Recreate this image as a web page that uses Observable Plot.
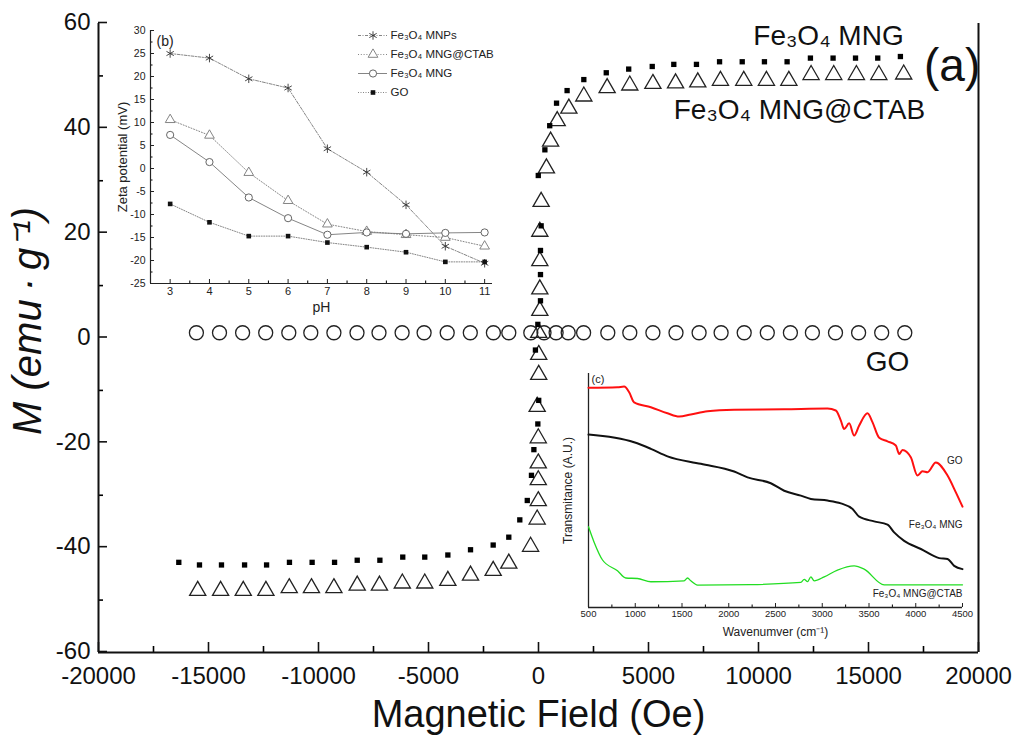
<!DOCTYPE html>
<html><head><meta charset="utf-8">
<script src="https://cdn.jsdelivr.net/npm/d3@7"></script>
<script src="https://cdn.jsdelivr.net/npm/@observablehq/plot@0.6"></script>
<style>
body{margin:0;background:#fff;}
#wrap{position:relative;width:1016px;height:740px;overflow:hidden;font-family:"Liberation Sans",Arial,sans-serif;}
#wrap > div{position:absolute;}
</style></head>
<body><div id="wrap"><div id="main" style="left:0;top:0"></div><div id="inb" style="left:100px;top:15px"></div><div id="leg" style="left:350px;top:25px"></div><div id="inc" style="left:540px;top:360px"></div></div>
<script>
// ---------- (a) main hysteresis data ----------
const goH = [-15550,-14500,-13450,-12400,-11350,-10350,-9300,-8250,-7250,-6200,-5200,-4150,-3100,-2050,-1350,-350,250,800,1350,2050,3150,4150,5200,6250,7300,8300,9350,10400,11450,12450,13500,14550,15600,16650];
const goM = [1,1,1,1,1,1,1,1,1,1,1,1,1,1,1,1,1,1,1,1,1,1,1,1,1,1,1,1,1,1,1,1,1,1];
const mngH = [-16350,-15410,-14410,-13360,-12360,-11320,-10290,-9270,-8240,-7210,-6170,-5170,-4120,-3090,-2060,-1350,-850,-510,-320,-210,-30,10,-140,-30,90,90,90,120,-10,290,510,820,1300,2060,3080,4100,5170,6150,7180,8230,9260,10270,11300,12360,13390,14410,15420,16450];
const mngM = [-42.8,-43.3,-43.3,-43.3,-43.3,-42.8,-42.8,-42.8,-42.4,-42.4,-41.8,-41.8,-41.4,-40.4,-39.5,-38.0,-34.7,-31.0,-26.2,-21.3,-16.4,-11.9,-2.3,2.6,7.1,12.1,16.7,21.4,31.0,35.9,40.5,44.8,47.2,49.3,50.6,51.3,51.8,52.2,52.2,52.7,52.7,52.7,52.7,53.4,53.4,53.4,53.4,53.7];
const ctabH = [-15490,-14450,-13420,-12390,-11330,-10320,-9300,-8240,-7230,-6190,-5170,-4120,-3090,-2060,-1350,-360,-60,-10,-10,-10,-10,-60,10,10,10,60,60,60,60,120,360,550,850,1380,2060,3120,4150,5200,6230,7240,8270,9330,10360,11380,12390,13420,14450,15470,16600];
const ctabM = [-48.2,-48.2,-48.2,-48.2,-47.7,-47.7,-47.7,-47.2,-47.2,-46.8,-46.8,-46.3,-45.3,-44.4,-43.0,-39.8,-34.6,-31.1,-27.1,-23.9,-19.1,-13.1,-7.0,-3.2,1.0,5.2,9.3,14.7,20.3,26.0,32.4,37.5,41.4,43.8,46.1,47.7,48.2,48.5,48.6,48.8,49.1,49.1,49.1,49.1,50.2,50.2,50.2,50.2,50.3];
const mainXMajor = [-20000,-15000,-10000,-5000,0,5000,10000,15000,20000];
const mainXMinor = [-17500,-12500,-7500,-2500,2500,7500,12500,17500];
const mainYMajor = [-60,-40,-20,0,20,40,60];
const mainYMinor = [-50,-30,-10,10,30,50];

// ---------- (b) zeta potential data ----------
const pH = [3,4,5,6,7,8,9,10,11];
const zetaNames = ["Fe₃O₄ MNPs","Fe₃O₄ MNG@CTAB","Fe₃O₄ MNG","GO"];
const zMNPs = [25,24,19.5,17.5,4.3,-0.8,-7.9,-16.9,-20.6];
const zCTAB = [10.6,7.2,-0.9,-7,-12.1,-13.7,-14.4,-15,-16.9];
const zMNG = [7.3,1.4,-6.3,-10.8,-14.4,-13.9,-14.2,-14,-13.9];
const zGO = [-7.7,-11.7,-14.7,-14.7,-16.1,-17.1,-18.2,-20.3,-20.3];
const bXTicks = [3,4,5,6,7,8,9,10,11];
const bXMinor = [3.5,4.5,5.5,6.5,7.5,8.5,9.5,10.5];
const bYTicks = [-25,-20,-15,-10,-5,0,5,10,15,20,25,30];
const bYMinor = [-22.5,-17.5,-12.5,-7.5,-2.5,2.5,7.5,12.5,17.5,22.5,27.5];

// ---------- (c) FTIR data ----------
const irGOw = [500,810,881,935,988,1167,1345,1470,1594,1773,2058,2593,3056,3145,3199,3234,3288,3341,3395,3484,3537,3609,3698,3787,3823,3858,3947,4019,4072,4126,4215,4340,4429,4500];
const irGOt = [93.9,94.1,94.4,92.0,87.7,85.6,83.0,81.6,82.5,83.9,84.5,84.7,85.0,84.2,79.9,76.3,78.7,73.5,77.8,83.0,79.2,72.5,71.0,69.2,65.6,67.3,64.2,56.4,58.2,57.8,62.0,56.4,49.2,43.1];
const irMNGw = [500,988,1167,1345,1701,2058,2201,2450,2593,2771,2878,3056,3199,3324,3395,3555,3698,3769,3876,4055,4251,4340,4411,4500];
const irMNGt = [73.9,70.6,67.8,64.6,61.4,58.1,55.6,53.1,49.9,47.8,46.4,45.7,44.5,42.1,38.8,36.8,35.4,32.1,28.5,25.0,21.1,20.7,17.8,16.4];
const irCTABw = [500,561,650,810,899,1024,1167,1523,1559,1594,1666,2236,2771,2807,2843,2878,2914,3021,3163,3341,3448,3662,4500];
const irCTABt = [34.5,27.8,20.3,15.7,12.6,12.4,11.0,11.4,12.6,11.4,9.6,9.8,10.7,12.0,11.1,13.1,11.4,13.1,16.0,17.8,16.4,9.7,9.7];
const cXTicks = [500,1000,1500,2000,2500,3000,3500,4000,4500];
const cXMinor = [750,1250,1750,2250,2750,3250,3750,4250];

const FONT = "Liberation Sans, Arial, Helvetica, sans-serif";
const zip = (xs, ys) => xs.map((x, i) => ({x, y: ys[i]}));
const str = d => String(d);

// ---------- main plot ----------
const mainPlot = Plot.plot({
  width: 1016, height: 740,
  marginLeft: 98, marginRight: 38, marginTop: 23, marginBottom: 88,
  style: {fontFamily: FONT, background: "transparent", overflow: "visible"},
  x: {domain: [-20000, 20000]},
  y: {domain: [-60, 60]},
  marks: [
    Plot.axisY({ticks: mainYMajor, tickSize: -9, tickPadding: 17, fontSize: 24, dy: -1, tickFormat: str, label: null, strokeWidth: 1.6, color: "#111"}),
    Plot.axisY({ticks: mainYMinor, tickSize: -5, tickFormat: () => "", label: null, strokeWidth: 1.6}),
    Plot.axisX({ticks: mainXMajor, tickSize: -10, tickPadding: 24, fontSize: 24, tickFormat: str, label: null, strokeWidth: 1.6, color: "#111"}),
    Plot.axisX({ticks: mainXMinor, tickSize: -6, tickFormat: () => "", label: null, strokeWidth: 1.6}),
    Plot.ruleX([-20000, 20000], {stroke: "#111", strokeWidth: 2}),
    Plot.ruleY([-60], {stroke: "#111", strokeWidth: 2}),
    Plot.dot(zip(goH, goM), {x: "x", y: "y", r: 7, stroke: "#222", strokeWidth: 1.3, fill: "none"}),
    Plot.dot(zip(ctabH, ctabM), {x: "x", y: "y", symbol: "triangle", r: 6, stroke: "#222", strokeWidth: 1.3, fill: "none"}),
    Plot.dot(zip(mngH, mngM), {x: "x", y: "y", symbol: "square", r: 3, fill: "#000", stroke: "none"}),
    Plot.text(["Fe₃O₄ MNG"], {x: 13180, y: 57.6, fontSize: 28, fill: "#111"}),
    Plot.text(["Fe₃O₄ MNG@CTAB"], {x: 11860, y: 43.4, fontSize: 28, fill: "#111"}),
    Plot.text(["(a)"], {x: 18800, y: 51.8, fontSize: 46, fill: "#111"}),
    Plot.text(["GO"], {x: 15860, y: -4.5, fontSize: 28, fill: "#111"}),
    Plot.text(["Magnetic Field (Oe)"], {frameAnchor: "bottom", dy: 74, fontSize: 38, fill: "#111"}),
    Plot.text(["M (emu\u2009·\u2009g⁻¹)"], {frameAnchor: "left", textAnchor: "middle", rotate: -90, dx: -70, dy: -17, fontSize: 40, fontStyle: "italic", fill: "#111"})
  ]
});
document.getElementById("main").appendChild(mainPlot);

// ---------- inset (b) ----------
const zetaSeries = [zMNPs, zCTAB, zMNG, zGO];
const zetaRows = zetaNames.flatMap((name, k) => pH.map((p, i) => ({name, pH: p, z: zetaSeries[k][i]})));
const zSty = {
  "Fe₃O₄ MNPs": {dash: "3,1.5,1,1.5", sym: "asterisk", fill: "none", stroke: "#333", r: 4},
  "Fe₃O₄ MNG@CTAB": {dash: "1,1.8", sym: "triangle", fill: "white", stroke: "#777", r: 3.6},
  "Fe₃O₄ MNG": {dash: null, sym: "circle", fill: "white", stroke: "#555", r: 3.6},
  "GO": {dash: "1,1.5", sym: "square", fill: "#111", stroke: "none", r: 2.6}
};
const bMarks = [];
for (const n of zetaNames) {
  const d = zetaRows.filter(r => r.name === n), s = zSty[n];
  bMarks.push(Plot.line(d, {x: "pH", y: "z", stroke: "#777", strokeWidth: 0.9, strokeDasharray: s.dash}));
}
for (const n of zetaNames) {
  const d = zetaRows.filter(r => r.name === n), s = zSty[n];
  bMarks.push(Plot.dot(d, {x: "pH", y: "z", symbol: s.sym, r: s.r, fill: s.fill, stroke: s.stroke, strokeWidth: 0.9}));
}
const inb = Plot.plot({
  width: 410, height: 300,
  marginLeft: 50, marginRight: 18, marginTop: 15, marginBottom: 32,
  style: {fontFamily: FONT, background: "transparent", overflow: "visible"},
  x: {domain: [2.5, 11.2]},
  y: {domain: [-25, 30]},
  marks: [
    Plot.axisY({ticks: bYTicks, tickSize: -4, tickPadding: 9, fontSize: 10.5, tickFormat: str, label: null, color: "#222"}),
    Plot.axisY({ticks: bYMinor, tickSize: -2.5, tickFormat: () => "", label: null}),
    Plot.axisX({ticks: bXTicks, tickSize: -4, tickPadding: 8, fontSize: 11, tickFormat: str, label: null, color: "#222"}),
    Plot.axisX({ticks: bXMinor, tickSize: -2.5, tickFormat: () => "", label: null}),
    Plot.ruleX([2.5], {stroke: "#222", strokeWidth: 1.2}),
    Plot.ruleY([-25], {stroke: "#222", strokeWidth: 1.2}),
    ...bMarks,
    Plot.text(["(b)"], {frameAnchor: "top-left", dx: 6, dy: 6, fontSize: 14, fill: "#222"}),
    Plot.text(["Zeta potential (mV)"], {frameAnchor: "left", textAnchor: "middle", rotate: -90, dx: -28, fontSize: 13, fill: "#222"}),
    Plot.text(["pH"], {frameAnchor: "bottom", dy: 28, fontSize: 14, fill: "#222"})
  ]
});
document.getElementById("inb").appendChild(inb);

// legend for (b)
const leg = Plot.plot({
  width: 170, height: 77,
  marginLeft: 8, marginRight: 133, marginTop: 10, marginBottom: 10,
  style: {fontFamily: FONT, background: "transparent", overflow: "visible"},
  x: {domain: [0, 1], axis: null},
  y: {type: "point", domain: zetaNames, axis: null, padding: 0},
  marks: [
    ...zetaNames.map(n => Plot.ruleY([n], {y: d => d, x1: 0, x2: 1, stroke: "#777", strokeWidth: 0.9, strokeDasharray: zSty[n].dash})),
    ...zetaNames.map(n => Plot.dot([n], {y: d => d, x: 0.5, symbol: zSty[n].sym, r: zSty[n].r, fill: zSty[n].fill, stroke: zSty[n].stroke, strokeWidth: 0.9})),
    Plot.text(zetaNames, {y: d => d, x: 1, text: d => d, dx: 3, textAnchor: "start", fontSize: 11.5, fill: "#222"})
  ]
});
document.getElementById("leg").appendChild(leg);

// ---------- inset (c) ----------
const irRows = [
  ...irGOw.map((w, i) => ({s: "GO", w, t: irGOt[i]})),
  ...irMNGw.map((w, i) => ({s: "MNG", w, t: irMNGt[i]})),
  ...irCTABw.map((w, i) => ({s: "CTAB", w, t: irCTABt[i]}))
];
const inc = Plot.plot({
  width: 440, height: 290,
  marginLeft: 48, marginRight: 18, marginTop: 13, marginBottom: 43,
  style: {fontFamily: FONT, background: "transparent", overflow: "visible"},
  x: {domain: [500, 4500]},
  y: {domain: [0, 100], axis: null},
  marks: [
    Plot.axisX({ticks: cXTicks, tickSize: -4, tickPadding: 7, fontSize: 9.5, tickFormat: str, label: null, color: "#222"}),
    Plot.axisX({ticks: cXMinor, tickSize: -2.5, tickFormat: () => "", label: null}),
    Plot.ruleX([500], {stroke: "#222", strokeWidth: 1.3}),
    Plot.ruleY([0], {stroke: "#222", strokeWidth: 1.3}),
    Plot.line(irRows.filter(d => d.s === "GO"), {x: "w", y: "t", stroke: "#ff1010", strokeWidth: 2, curve: "monotone-x"}),
    Plot.line(irRows.filter(d => d.s === "MNG"), {x: "w", y: "t", stroke: "#111", strokeWidth: 2, curve: "monotone-x"}),
    Plot.line(irRows.filter(d => d.s === "CTAB"), {x: "w", y: "t", stroke: "#22dd22", strokeWidth: 1.3, curve: "monotone-x"}),
    Plot.text(["GO"], {x: 4500, y: 62.8, textAnchor: "end", fontSize: 10, fill: "#222"}),
    Plot.text(["Fe₃O₄ MNG"], {x: 4500, y: 35.4, textAnchor: "end", fontSize: 10, fill: "#222"}),
    Plot.text(["Fe₃O₄ MNG@CTAB"], {x: 4500, y: 5.8, textAnchor: "end", fontSize: 10, fill: "#222"}),
    Plot.text(["(c)"], {frameAnchor: "top-left", dx: 3, dy: 2, fontSize: 11, fill: "#222"}),
    Plot.text(["Transmitance (A.U.)"], {frameAnchor: "left", textAnchor: "middle", rotate: -90, dx: -20, fontSize: 12, fill: "#222"}),
    Plot.text(["Wavenumver (cm⁻¹)"], {frameAnchor: "bottom", dy: 28, fontSize: 12, fill: "#222"})
  ]
});
document.getElementById("inc").appendChild(inc);
</script>
</body></html>
